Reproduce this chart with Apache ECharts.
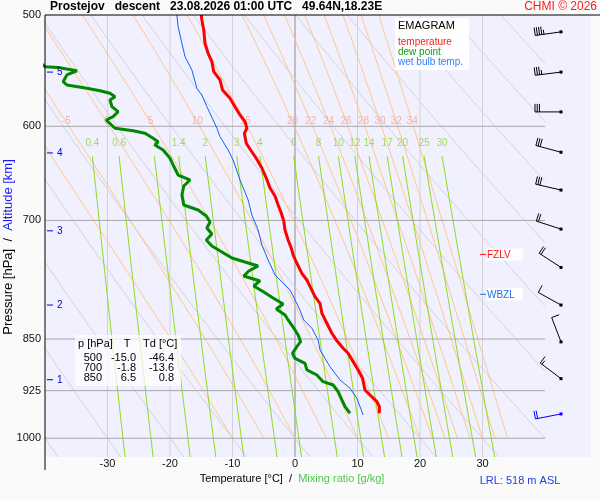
<!DOCTYPE html>
<html><head><meta charset="utf-8">
<script src="https://cdn.jsdelivr.net/npm/echarts@6/dist/echarts.min.js"></script>
<style>html,body{margin:0;padding:0;background:#fafafa}#c{width:600px;height:500px}</style>
</head><body><div id="c"></div>
<script>
// ---------- data ----------
const tempP = [500,504.1,512.4,523.7,532.4,539.7,548.6,556.1,565.3,573.1,581.0,588.9,595.4,601.9,606.9,616.9,623.7,632.2,642.4,653.0,663.8,672.5,682.5,691.5,700.6,711.0,722.7,732.3,740.7,749.3,763.3,771.7,793.1,801.7,814.9,828.4,842.0,851.3,863.0,870.1,882.1,894.2,906.5,924.0,931.6,941.9,949.6,959.9];
const tempT = [-15.0,-14.9,-14.6,-14.4,-13.9,-13.3,-13.0,-12.0,-11.6,-10.4,-9.6,-8.8,-8.0,-7.7,-8.1,-7.8,-7.1,-6.2,-5.3,-4.6,-4.0,-3.2,-2.7,-2.2,-1.8,-1.6,-1.1,-0.6,-0.3,0.2,1.1,1.9,3.2,4.0,4.3,5.1,5.9,6.6,7.7,8.5,9.3,10.1,10.8,11.2,12.0,13.1,13.5,13.5];
const dewP = [500,525,544.2,544.9,547.8,551.6,557.7,560.7,563.8,566.0,568.4,571.6,574.7,581.0,585.8,590.6,593.8,601.9,604.3,606.9,611.9,615.3,618.6,623.7,632.2,639.2,649.8,655.1,661.6,671.4,682.5,688.1,694.9,701.8,708.7,715.7,722.7,729.9,737.1,744.4,749.3,754.2,760.4,766.6,772.9,779.3,787.0,794.8,802.6,809.2,817.2,823.9,837.5,844.4,853.7,860.7,870.1,877.3,884.5,894.2,901.6,911.5,916.5,926.6,939.2,949.6,959.9];
const dewT = [-46.4,-44.0,-40.0,-37.9,-34.9,-36.5,-37.1,-36.5,-33.3,-31.2,-29.6,-28.8,-29.6,-29.3,-28.3,-29.1,-30.2,-28.8,-25.9,-24.0,-22.7,-21.9,-22.4,-21.1,-20.0,-19.5,-18.7,-16.8,-17.8,-18.1,-17.8,-15.5,-14.2,-13.6,-14.1,-13.3,-14.2,-13.3,-11.7,-10.1,-8.0,-5.9,-7.4,-8.2,-5.6,-6.6,-5.0,-3.5,-1.9,-3.0,-1.6,-1.1,0.0,0.5,0.9,0.3,-0.4,0.0,1.6,1.9,3.5,4.5,6.1,6.9,7.5,8.0,8.8];
const wetP = [500,509.7,523.7,535.3,547.1,563.8,570.0,581.0,593.8,601.9,610.2,623.7,634.0,655.1,676.9,693.8,711.0,728.7,746.8,765.4,784.4,803.9,811.0,823.9,835.2,851.3,865.4,877.3,889.4,909.0,921.4,936.6,962.6];
const wetT = [-18.9,-18.7,-18.1,-17.6,-16.5,-15.7,-14.9,-14.1,-13.1,-12.5,-12.0,-10.7,-9.9,-8.8,-7.5,-6.9,-5.9,-5.3,-4.3,-3.2,-0.8,0.4,0.8,1.4,2.7,3.7,4.0,4.8,5.6,7.2,8.8,9.9,10.9];
const windP = [514,549,586,626,666,710,756,804,854,907,961];
const windDir = [262,263,270,285,283,288,303,299,339,307,259];
const windSpd = [45,35,30,30,30,20,20,10,10,15,20];
const altKm = [1,2,3,4,5];
const altP = [908.6,804,712,626.7,549];
const levelNames = ['FZLV','WBZL'];
const levelP = [740,790];
const pressureTicks = [500,600,700,850,925,1000];
const isobarP = [600,700,850,925,1000];
const isothermT = [-30,-20,-10,0,10,20,30];
const dryThetaC = [-40,-30,-20,-10,0,10,20,30,40,50,60,70,80,90,100];
const moistThetaW = [-10,-5,0,5,10,15,20,22,24,26,28,30,32,34];
const mixW = [0.4,0.6,1,1.4,2,3,4,6,8,10,12,14,17,20,25,30];
const tableP = [500,700,850];
const tableT = [-15.0,-1.8,6.5];
const tableTd = [-46.4,-13.6,0.8];
const lrlHeight = 518;

// ---------- thermodynamic reference lines ----------
const P_MIN=500, P_MAX=1031.2, T_LIM=40, X_MIN=-40, X_MAX=47.36;
const FONT='Liberation Sans, Arial, sans-serif';
function es(Tc){return 6.112*Math.exp(17.67*Tc/(Tc+243.5));}
function dTdp(T,p){const e=es(T-273.15);const rs=0.622*e/(p-e);
  return (287.04*T+2.501e6*rs)/(p*(1005.7+2.501e6*2.501e6*rs*0.622/(287.04*T*T)));}
function pList(pTop,pBot,step){const a=[];for(let p=pBot;p>pTop;p-=step)a.push(p);a.push(pTop);return a;}
function dryCurve(thC){const th=thC+273.15;const out=[];
  pList(P_MIN,P_MAX,2).forEach(p=>{const T=th*Math.pow(p/1000,0.2857)-273.15;if(T<=T_LIM)out.push([T,p]);});
  const pb=1000*Math.pow((T_LIM+273.15)/th,1/0.2857);
  if(pb>P_MIN&&pb<P_MAX)out.push([T_LIM,pb]);
  out.sort((a,b)=>b[1]-a[1]);return out;}
function moistCurve(tw){const out=[[tw,1000]];let T=tw+273.15,p=1000;const h=-2;
  while(p>P_MIN+1e-6){const k1=dTdp(T,p),k2=dTdp(T+h*k1/2,p+h/2),k3=dTdp(T+h*k2/2,p+h/2),k4=dTdp(T+h*k3,p+h);
    T+=h*(k1+2*k2+2*k3+k4)/6;p+=h;out.push([T-273.15,p]);}
  return out;}
function mixTd(w,p){const e=w*p/(622+w);const L=Math.log(e/6.112);return 243.5*L/(17.67-L);}
function mixCurve(w){return pList(630,P_MAX,5).map(p=>[mixTd(w,p),p]);}

const series=[];
function bg(data,color,width,z){series.push({type:'line',data:data,symbol:'none',silent:true,animation:false,
  clip:true,lineStyle:{color:color,width:width},z:z});}
isothermT.forEach(t=>bg([[t,P_MIN],[t,P_MAX]],t===0?'#8c8c8c':'#d2d2d6',1,1));
dryThetaC.forEach(th=>bg(dryCurve(th),'#d2d2d6',1,2));
const moistCurves=moistThetaW.map(tw=>moistCurve(tw));
moistCurves.forEach(c=>bg(c,'#ffc687',1,3));
mixW.forEach(w=>bg(mixCurve(w),'#8cdc14',1,4));
isobarP.forEach(p=>bg([[X_MIN,p],[T_LIM,p]],'#a8a8a8',1,5));

// labels of moist adiabats and mixing ratio lines
const moistLabels=[];
moistCurves.forEach((c,i)=>{let best=c[0];c.forEach(q=>{if(Math.abs(q[1]-595)<Math.abs(best[1]-595))best=q;});
  if(best[0]>-39)moistLabels.push({value:[best[0],595],name:String(moistThetaW[i])});});
series.push({type:'scatter',data:moistLabels,symbolSize:0,silent:true,z:6,
  label:{show:true,position:'inside',formatter:p=>p.name,color:'#f5a58c',fontSize:10,fontFamily:FONT}});
const mixLabels=mixW.map(w=>({value:[mixTd(w,630),617],name:String(w)}));
series.push({type:'scatter',data:mixLabels,symbolSize:0,silent:true,z:6,
  label:{show:true,position:'inside',formatter:p=>p.name,color:'#8fd43a',fontSize:10,fontFamily:FONT}});

// profiles
function prof(P,T,color,width,z){series.push({type:'line',data:P.map((p,i)=>[T[i],p]),symbol:'none',
  clip:true,silent:true,lineStyle:{color:color,width:width},z:z});}
prof(wetP,wetT,'#1060ff',1,10);
prof(dewP,dewT,'#008800',3,11);
prof(tempP,tempT,'#ff0000',3,12);

// wind barbs
series.push({type:'custom',data:windP.map((p,i)=>[0,p,windDir[i],windSpd[i]]),silent:true,z:20,clip:false,
  renderItem:function(params,api){
    const y=api.coord([0,api.value(1)])[1];const x=params.coordSys.x+params.coordSys.width-30;
    const col=params.dataIndex===windP.length-1?'#0000ff':'#000000';
    const d=api.value(2)*Math.PI/180,sx=Math.sin(d),sy=-Math.cos(d),fx=-sy,fy=sx;
    const L=26,tx=x+L*sx,ty=y+L*sy;const spd=Math.round(api.value(3)/5)*5;
    const full=Math.floor(spd/10),half=(spd%10)>=5?1:0;const gap=2.2;
    const ch=[{type:'line',shape:{x1:x,y1:y,x2:tx,y2:ty},style:{stroke:col,lineWidth:1}},
      {type:'rect',shape:{x:x-1.5,y:y-1.5,width:3,height:3},style:{fill:col}}];
    let k=0;
    for(let i=0;i<full;i++,k++){const bx=tx-k*gap*sx,by=ty-k*gap*sy;
      ch.push({type:'line',shape:{x1:bx,y1:by,x2:bx+8*fx,y2:by+8*fy},style:{stroke:col,lineWidth:1}});}
    if(half){if(full===0)k=1;const bx=tx-k*gap*sx,by=ty-k*gap*sy;
      ch.push({type:'line',shape:{x1:bx,y1:by,x2:bx+4.5*fx,y2:by+4.5*fy},style:{stroke:col,lineWidth:1}});}
    return {type:'group',children:ch};}});

// freezing / wet-bulb zero levels
series.push({type:'custom',data:levelP.map((p,i)=>[0,p,i]),silent:true,z:21,clip:false,
  renderItem:function(params,api){const y=api.coord([0,api.value(1)])[1];const x=params.coordSys.x+435;
    const i=api.value(2);const col=i===0?'#ff1010':'#2070e0';
    return {type:'group',children:[
      {type:'rect',shape:{x:x+7,y:y-6,width:36,height:12},style:{fill:'rgba(255,255,255,0.9)'}},
      {type:'line',shape:{x1:x,y1:y,x2:x+6,y2:y},style:{stroke:col,lineWidth:1}},
      {type:'text',style:{x:x+7,y:y+0.5,text:levelNames[i],fill:col,fontSize:10,fontFamily:FONT,verticalAlign:'middle'}}]};}});

// altitude marks
series.push({type:'custom',data:altP.map((p,i)=>[0,p,altKm[i]]),silent:true,z:21,clip:false,
  renderItem:function(params,api){const y=api.coord([0,api.value(1)])[1];const x=params.coordSys.x;
    return {type:'group',children:[
      {type:'line',shape:{x1:x+2,y1:y,x2:x+8,y2:y},style:{stroke:'#0000dd',lineWidth:1}},
      {type:'text',style:{x:x+12,y:y+0.5,text:String(api.value(2)),fill:'#0000dd',fontSize:10,fontFamily:FONT,verticalAlign:'middle'}}]};}});

// ---------- graphic texts ----------
const tableRows=[];
tableP.forEach((p,i)=>{const yy=358+i*10;
  tableRows.push({type:'text',x:102,y:yy,style:{text:String(p),fill:'#000',fontSize:11,fontFamily:FONT,align:'right',verticalAlign:'middle'}});
  tableRows.push({type:'text',x:136,y:yy,style:{text:tableT[i].toFixed(1),fill:'#000',fontSize:11,fontFamily:FONT,align:'right',verticalAlign:'middle'}});
  tableRows.push({type:'text',x:174,y:yy,style:{text:tableTd[i].toFixed(1),fill:'#000',fontSize:11,fontFamily:FONT,align:'right',verticalAlign:'middle'}});});

const graphic=[
  {type:'line',z:50,shape:{x1:45,y1:15,x2:600,y2:15},style:{stroke:'#000',lineWidth:1}},
  {type:'line',z:50,shape:{x1:45,y1:15,x2:45,y2:470},style:{stroke:'#000',lineWidth:1}},
  {type:'text',z:50,x:50,y:7,style:{text:'Prostejov   descent   23.08.2026 01:00 UTC   49.64N,18.23E',fill:'#000',font:'bold 12px '+FONT,verticalAlign:'middle'}},
  {type:'text',z:50,x:597,y:7,style:{text:'CHMI © 2026',fill:'#ff1a1a',fontSize:12,fontFamily:FONT,align:'right',verticalAlign:'middle'}},
  {type:'rect',z:50,shape:{x:395,y:18,width:74,height:52},style:{fill:'rgba(255,255,255,0.92)'}},
  {type:'text',z:51,x:398,y:26,style:{text:'EMAGRAM',fill:'#000',fontSize:11,fontFamily:FONT,verticalAlign:'middle'}},
  {type:'text',z:51,x:398,y:42,style:{text:'temperature',fill:'#ff2020',fontSize:10,fontFamily:FONT,verticalAlign:'middle'}},
  {type:'text',z:51,x:398,y:52,style:{text:'dew point',fill:'#10a010',fontSize:10,fontFamily:FONT,verticalAlign:'middle'}},
  {type:'text',z:51,x:398,y:62,style:{text:'wet bulb temp.',fill:'#3080ff',fontSize:10,fontFamily:FONT,verticalAlign:'middle'}},
  {type:'rect',z:50,shape:{x:75,y:335,width:106,height:51},style:{fill:'rgba(255,255,255,0.72)'}},
  {type:'text',z:51,x:78,y:344,style:{text:'p [hPa]',fill:'#000',fontSize:11,fontFamily:FONT,verticalAlign:'middle'}},
  {type:'text',z:51,x:127,y:344,style:{text:'T',fill:'#000',fontSize:11,fontFamily:FONT,align:'center',verticalAlign:'middle'}},
  {type:'text',z:51,x:143,y:344,style:{text:'Td [°C]',fill:'#000',fontSize:11,fontFamily:FONT,verticalAlign:'middle'}}
].concat(tableRows.map(t=>Object.assign({z:51},t))).concat([
  {type:'text',z:50,x:292,y:479,style:{text:'{a|Temperature [°C]  /  }{b|Mixing ratio [g/kg]}',align:'center',verticalAlign:'middle',
    rich:{a:{fill:'#000',fontSize:11,fontFamily:FONT},b:{fill:'#4cc94c',fontSize:11,fontFamily:FONT}}}},
  {type:'text',z:50,x:520,y:481,style:{text:'LRL: '+lrlHeight+' m ASL',fill:'#2040e0',fontSize:11,fontFamily:FONT,align:'center',verticalAlign:'middle'}},
  {type:'text',z:50,x:8,y:247,rotation:Math.PI/2,style:{text:'{a|Pressure [hPa]  /  }{b|Altitude [km]}',align:'center',verticalAlign:'middle',
    rich:{a:{fill:'#000',fontSize:13,fontFamily:FONT},b:{fill:'#1a1aff',fontSize:13,fontFamily:FONT}}}}
]);

const chart=echarts.init(document.getElementById('c'),null,{renderer:'canvas'});
chart.setOption({
  animation:false,backgroundColor:'#fafafa',
  grid:{left:45,top:15,width:546,height:442,show:true,backgroundColor:'#f0f0ff',borderWidth:0,containLabel:false},
  xAxis:{type:'value',min:X_MIN,max:X_MAX,interval:10,axisLine:{show:false},axisTick:{show:false},splitLine:{show:false},
    axisLabel:{margin:1,fontSize:11,color:'#111',fontFamily:FONT,formatter:v=>(v<-35||v>35||Math.abs(v-Math.round(v))>1e-6)?'':String(v)}},
  yAxis:{type:'log',logBase:10,min:P_MIN,max:P_MAX,inverse:true,axisLine:{show:false},axisTick:{show:false},splitLine:{show:false},
    axisLabel:{customValues:pressureTicks,margin:4,fontSize:11,color:'#111',fontFamily:FONT,formatter:v=>String(Math.round(v))}},
  graphic:graphic,
  series:series
});
</script></body></html>
